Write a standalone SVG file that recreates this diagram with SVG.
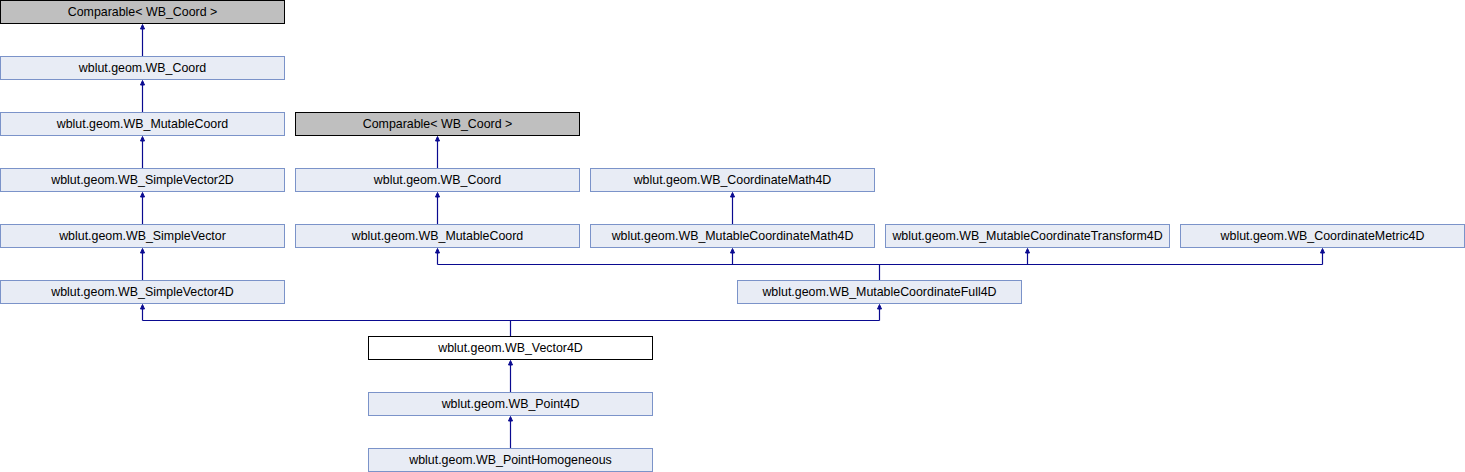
<svg xmlns="http://www.w3.org/2000/svg" width="1465" height="472" viewBox="0 0 1465 472">
<style>
.n rect{fill:#e8ecf5;stroke:#7b93c9;stroke-width:1}
.g rect{fill:#bfbfbf;stroke:#000;stroke-width:1}
.m rect{fill:#fff;stroke:#000;stroke-width:1}
text{font-family:"Liberation Sans",Arial,sans-serif;font-size:12.4px;fill:#000;text-anchor:middle}
.e path{fill:none;stroke:#0a0a90;stroke-width:1.2}
.e polygon{fill:#0a0a90;stroke:#0a0a90;stroke-width:1}
</style>
<rect width="1465" height="472" fill="#fff"/>
<g class="e" id="connectors">
<path d="M142.5,56.5V28"/><polygon points="142.5,24.5 140.5,29 144.5,29"/>
<path d="M142.5,112.5V84"/><polygon points="142.5,80.5 140.5,85 144.5,85"/>
<path d="M142.5,168.5V140"/><polygon points="142.5,136.5 140.5,141 144.5,141"/>
<path d="M142.5,224.5V196"/><polygon points="142.5,192.5 140.5,197 144.5,197"/>
<path d="M142.5,280.5V252"/><polygon points="142.5,248.5 140.5,253 144.5,253"/>
<path d="M437.5,168.5V140"/><polygon points="437.5,136.5 435.5,141 439.5,141"/>
<path d="M437.5,224.5V196"/><polygon points="437.5,192.5 435.5,197 439.5,197"/>
<path d="M732.5,224.5V196"/><polygon points="732.5,192.5 730.5,197 734.5,197"/>
<path d="M879.5,280.5V264.5M437.5,264.5H1322.5M437.5,264.5V252M732.5,264.5V252M1027.5,264.5V252M1322.5,264.5V252"/>
<polygon points="437.5,248.5 435.5,253 439.5,253"/>
<polygon points="732.5,248.5 730.5,253 734.5,253"/>
<polygon points="1027.5,248.5 1025.5,253 1029.5,253"/>
<polygon points="1322.5,248.5 1320.5,253 1324.5,253"/>
<path d="M510.5,336.5V320.5M142.5,320.5H879.5M142.5,320.5V308M879.5,320.5V308"/>
<polygon points="142.5,304.5 140.5,309 144.5,309"/>
<polygon points="879.5,304.5 877.5,309 881.5,309"/>
<path d="M510.5,392.5V364"/><polygon points="510.5,360.5 508.5,365 512.5,365"/>
<path d="M510.5,448.5V420"/><polygon points="510.5,416.5 508.5,421 512.5,421"/>
</g>
<g id="comparable1" class="g"><rect x="0.5" y="0.5" width="284" height="23"/><text x="142.5" y="16">Comparable&lt; WB_Coord &gt;</text></g>
<g id="coord1" class="n"><rect x="0.5" y="56.5" width="284" height="23"/><text x="142.5" y="72">wblut.geom.WB_Coord</text></g>
<g id="mutablecoord1" class="n"><rect x="0.5" y="112.5" width="284" height="23"/><text x="142.5" y="128">wblut.geom.WB_MutableCoord</text></g>
<g id="simplevector2d" class="n"><rect x="0.5" y="168.5" width="284" height="23"/><text x="142.5" y="184">wblut.geom.WB_SimpleVector2D</text></g>
<g id="simplevector" class="n"><rect x="0.5" y="224.5" width="284" height="23"/><text x="142.5" y="240">wblut.geom.WB_SimpleVector</text></g>
<g id="simplevector4d" class="n"><rect x="0.5" y="280.5" width="284" height="23"/><text x="142.5" y="296">wblut.geom.WB_SimpleVector4D</text></g>
<g id="comparable2" class="g"><rect x="295.5" y="112.5" width="284" height="23"/><text x="437.5" y="128">Comparable&lt; WB_Coord &gt;</text></g>
<g id="coord2" class="n"><rect x="295.5" y="168.5" width="284" height="23"/><text x="437.5" y="184">wblut.geom.WB_Coord</text></g>
<g id="mutablecoord2" class="n"><rect x="295.5" y="224.5" width="284" height="23"/><text x="437.5" y="240">wblut.geom.WB_MutableCoord</text></g>
<g id="coordmath4d" class="n"><rect x="590.5" y="168.5" width="284" height="23"/><text x="732.5" y="184">wblut.geom.WB_CoordinateMath4D</text></g>
<g id="mutablecoordmath4d" class="n"><rect x="590.5" y="224.5" width="284" height="23"/><text x="732.5" y="240">wblut.geom.WB_MutableCoordinateMath4D</text></g>
<g id="mutablecoordtransform4d" class="n"><rect x="885.5" y="224.5" width="284" height="23"/><text x="1027.5" y="240">wblut.geom.WB_MutableCoordinateTransform4D</text></g>
<g id="coordmetric4d" class="n"><rect x="1180.5" y="224.5" width="284" height="23"/><text x="1322.5" y="240">wblut.geom.WB_CoordinateMetric4D</text></g>
<g id="mutablecoordfull4d" class="n"><rect x="737.5" y="280.5" width="284" height="23"/><text x="879.5" y="296">wblut.geom.WB_MutableCoordinateFull4D</text></g>
<g id="vector4d" class="m"><rect x="368.5" y="336.5" width="284" height="23"/><text x="510.5" y="352">wblut.geom.WB_Vector4D</text></g>
<g id="point4d" class="n"><rect x="368.5" y="392.5" width="284" height="23"/><text x="510.5" y="408">wblut.geom.WB_Point4D</text></g>
<g id="pointhomogeneous" class="n"><rect x="368.5" y="448.5" width="284" height="23"/><text x="510.5" y="464">wblut.geom.WB_PointHomogeneous</text></g>
</svg>
